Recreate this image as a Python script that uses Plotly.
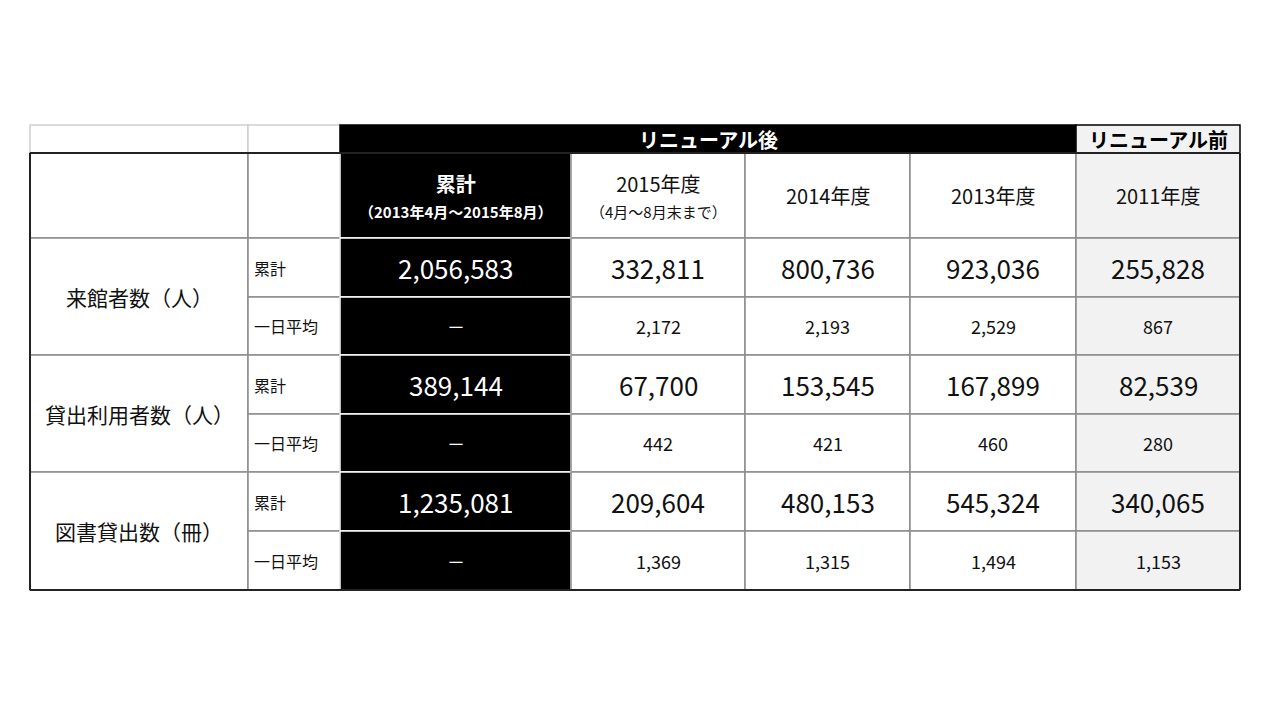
import plotly.graph_objects as go

columns = ["累計<br><span style='font-size:15px'>（2013年4月～2015年8月）</span>",
           "2015年度<br><span style='font-size:15px'>（4月～8月末まで）</span>",
           "2014年度", "2013年度", "2011年度"]
groups = ["来館者数（人）", "貸出利用者数（人）", "図書貸出数（冊）"]
sub_rows = ["累計", "一日平均"]
totals = [
    ["2,056,583", "332,811", "800,736", "923,036", "255,828"],
    ["389,144", "67,700", "153,545", "167,899", "82,539"],
    ["1,235,081", "209,604", "480,153", "545,324", "340,065"],
]
daily = [
    ["－", "2,172", "2,193", "2,529", "867"],
    ["－", "442", "421", "460", "280"],
    ["－", "1,369", "1,315", "1,494", "1,153"],
]
band_after = "リニューアル後"
band_before = "リニューアル前"

xs = [30, 248, 340, 571, 745, 910, 1076, 1240]
ys = [125, 153, 238, 297, 355, 414, 472, 531, 590]
FONT = "Liberation Sans Narrow, Noto Sans CJK JP"
GRID = "#8c8c8c"
LIGHT = "#f2f2f2"

shapes, ann = [], []
def rect(x0, y0, x1, y1, fill, line=GRID, w=1.5):
    shapes.append(dict(type="rect", xref="x", yref="y", x0=x0, y0=y0, x1=x1, y1=y1,
                       fillcolor=fill, line=dict(color=line, width=w), layer="below"))
def text(x, y, t, size, color="black", bold=False):
    if bold:
        t = "<b>" + t + "</b>"
    ann.append(dict(x=x, y=y, xref="x", yref="y", text=t, showarrow=False,
                    font=dict(size=size, color=color, family=FONT)))

rect(xs[0], ys[0], xs[1], ys[1], "white", "#d0d0d0")
rect(xs[1], ys[0], xs[2], ys[1], "white", "#d0d0d0")
rect(xs[2], ys[0], xs[6], ys[1], "black", "black")
rect(xs[6], ys[0], xs[7], ys[1], LIGHT, "black")
text((xs[2] + xs[6]) / 2, (ys[0] + ys[1]) / 2, band_after, 20, "white", True)
text((xs[6] + xs[7]) / 2, (ys[0] + ys[1]) / 2, band_before, 20, "black", True)

rect(xs[0], ys[1], xs[1], ys[2], "white")
rect(xs[1], ys[1], xs[2], ys[2], "white")
for j, c in enumerate(columns):
    fill = "black" if j == 0 else (LIGHT if j == 4 else "white")
    rect(xs[j + 2], ys[1], xs[j + 3], ys[2], fill, "white" if j == 0 else GRID)
    text((xs[j + 2] + xs[j + 3]) / 2, (ys[1] + ys[2]) / 2, c, 20,
         "white" if j == 0 else "#111", j == 0)

for g, name in enumerate(groups):
    y0 = ys[2 + 2 * g]
    rect(xs[0], y0, xs[1], ys[4 + 2 * g], "white")
    text((xs[0] + xs[1]) / 2, (y0 + ys[4 + 2 * g]) / 2, name, 21, "#111")
    for r, vals in enumerate([totals[g], daily[g]]):
        ya, yb = ys[2 + 2 * g + r], ys[3 + 2 * g + r]
        rect(xs[1], ya, xs[2], yb, "white")
        ann.append(dict(x=xs[1] + 4, y=(ya + yb) / 2, xref="x", yref="y", text=sub_rows[r],
                        showarrow=False, xanchor="left",
                        font=dict(size=16, color="#111", family=FONT)))
        for j, v in enumerate(vals):
            fill = "black" if j == 0 else (LIGHT if j == 4 else "white")
            rect(xs[j + 2], ya, xs[j + 3], yb, fill, "white" if j == 0 else GRID)
            text((xs[j + 2] + xs[j + 3]) / 2, (ya + yb) / 2, v, 26 if r == 0 else 18,
                 "white" if j == 0 else "#111")

for (x0, y0, x1, y1) in [(xs[0], ys[1], xs[7], ys[1]), (xs[0], ys[8], xs[7], ys[8]),
                          (xs[0], ys[1], xs[0], ys[8]), (xs[7], ys[1], xs[7], ys[8])]:
    shapes.append(dict(type="line", xref="x", yref="y", x0=x0, y0=y0, x1=x1, y1=y1,
                       line=dict(color="#222", width=2)))

fig = go.Figure()
fig.update_layout(width=1280, height=720, margin=dict(l=0, r=0, t=0, b=0),
                  plot_bgcolor="white", paper_bgcolor="white", shapes=shapes,
                  annotations=ann, showlegend=False,
                  xaxis=dict(range=[8, 1288], visible=False, fixedrange=True),
                  yaxis=dict(range=[728, 8], visible=False, fixedrange=True))
fig.write_html("out.html")
